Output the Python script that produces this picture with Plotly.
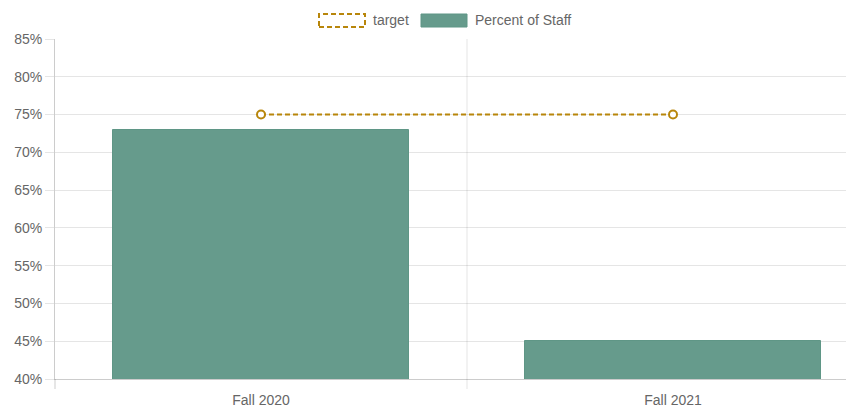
import plotly.graph_objects as go

categories = ["Fall 2020", "Fall 2021"]
percent_of_staff = [73, 45]
target = [75, 75]
y_ticks = [40, 45, 50, 55, 60, 65, 70, 75, 80, 85]

bar_color = "rgb(102,155,140)"
bar_edge = "rgb(95,150,134)"
gold = "rgb(184,134,11)"
grey = "#666666"
font_family = "Liberation Sans, Arial, Helvetica, sans-serif"

PW = 791.0   # plot width px
PH = 340.0   # plot height px

fig = go.Figure()
fig.add_trace(go.Bar(
    x=[0, 1], y=percent_of_staff, name="Percent of Staff",
    marker=dict(color=bar_color, line=dict(color=bar_edge, width=1)),
    width=0.72, showlegend=False,
))
fig.add_trace(go.Scatter(
    x=[0, 1], y=target, name="target", mode="lines+markers",
    line=dict(color=gold, width=2, dash="5px,3px"),
    marker=dict(symbol="circle", size=8, color="white", line=dict(color=gold, width=2)),
    showlegend=False,
))

# vertical category boundary grid line (extends below axis like a tick)
fig.add_shape(type="line", xref="x", yref="paper", x0=0.5, x1=0.5, y0=-10/PH, y1=1,
              line=dict(color="rgba(0,0,0,0.1)", width=1), layer="below")
# left axis line extension below the axis
fig.add_shape(type="line", xref="paper", yref="paper", x0=0, x1=0, y0=-10/PH, y1=0,
              line=dict(color="rgba(0,0,0,0.2)", width=1), layer="below")

# custom legend (Chart.js style boxes)
fig.add_shape(type="rect", xref="paper", yref="paper",
              x0=(319-55)/PW, x1=(365-55)/PW, y0=1+(39-27)/PH, y1=1+(39-14)/PH,
              line=dict(color=gold, width=2, dash="5px,3px"), fillcolor="rgba(0,0,0,0)")
fig.add_annotation(xref="paper", yref="paper", x=(371-55)/PW, y=1+(39-20.5)/PH,
                   text="target", showarrow=False, xanchor="left", yanchor="middle",
                   font=dict(size=14, color=grey, family=font_family))
fig.add_shape(type="rect", xref="paper", yref="paper",
              x0=(421-55)/PW, x1=(467-55)/PW, y0=1+(39-27)/PH, y1=1+(39-14)/PH,
              line=dict(color=bar_edge, width=1), fillcolor=bar_color)
fig.add_annotation(xref="paper", yref="paper", x=(473-55)/PW, y=1+(39-20.5)/PH,
                   text="Percent of Staff", showarrow=False, xanchor="left", yanchor="middle",
                   font=dict(size=14, color=grey, family=font_family))

fig.update_layout(
    width=846, height=411,
    margin=dict(l=55, r=0, t=39, b=32, pad=0),
    paper_bgcolor="white", plot_bgcolor="white",
    font=dict(family=font_family, size=14, color=grey),
    bargap=0,
)
fig.update_xaxes(
    range=[-0.5, -0.5 + PW/412],
    tickmode="array", tickvals=[0, 1], ticktext=categories,
    showgrid=False, zeroline=False,
    showline=True, linecolor="rgba(0,0,0,0.2)", linewidth=1,
    ticks="outside", ticklen=8, tickcolor="rgba(0,0,0,0)",
    tickfont=dict(size=14, color=grey),
)
fig.update_yaxes(
    range=[40, 85], tickmode="array", tickvals=y_ticks,
    ticktext=[f"{v}%" for v in y_ticks],
    showgrid=True, gridcolor="rgba(0,0,0,0.1)", gridwidth=1,
    zeroline=False, showline=True, linecolor="rgba(0,0,0,0.2)", linewidth=1,
    ticks="outside", ticklen=9, tickcolor="rgba(0,0,0,0.1)",
    tickfont=dict(size=14, color=grey),
)

fig.write_html("out.html",
               config={"displayModeBar": False},
               post_script="document.body.style.margin='0';document.body.style.overflow='hidden';")
